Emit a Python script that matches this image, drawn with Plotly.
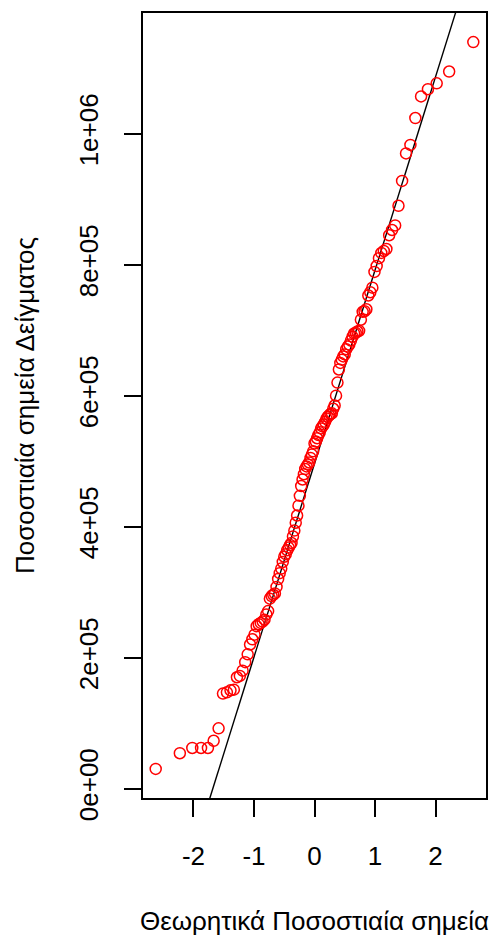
import numpy as np
import plotly.graph_objects as go
from statistics import NormalDist

# Sorted sample values (Normal Q-Q plot)
sample_values = [
    30000, 54000, 62000, 62000, 62000, 73000, 92000, 145000, 147000, 150000,
    151000, 170000, 172000, 180000, 193000, 205000, 220000, 228000, 235000, 248000,
    251000, 253000, 255000, 258000, 266000, 271000, 290000, 294000, 296000, 298000,
    308000, 320000, 329000, 336000, 346000, 354000, 358000, 364000, 368000, 372000,
    375000, 385000, 394000, 406000, 417000, 432000, 447000, 462000, 472000, 480000,
    488000, 492000, 495000, 498000, 505000, 510000, 515000, 527000, 530000, 535000,
    540000, 544000, 550000, 553000, 556000, 560000, 565000, 568000, 570000, 572000,
    573000, 580000, 585000, 600000, 620000, 640000, 650000, 655000, 660000, 663000,
    671000, 675000, 678000, 684000, 690000, 695000, 696000, 698000, 699000, 716000,
    728000, 729000, 732000, 753000, 758000, 765000, 789000, 798000, 810000, 818000,
    821000, 824000, 845000, 853000, 860000, 890000, 928000, 970000, 983000, 1024000,
    1057000, 1068000, 1077000, 1095000, 1140000,
]

x_tick_values = [-2, -1, 0, 1, 2]
x_tick_labels = ["-2", "-1", "0", "1", "2"]
y_tick_values = [0, 200000, 400000, 600000, 800000, 1000000]
y_tick_labels = ["0e+00", "2e+05", "4e+05", "6e+05", "8e+05", "1e+06"]

x_title = "Θεωρητικά Ποσοστιαία σημεία"
y_title = "Ποσοστιαία σημεία Δείγματος"

# Theoretical normal quantiles at plotting positions (i - 0.5) / n
norm = NormalDist()
sample = np.array(sorted(sample_values), dtype=float)
n = len(sample)
theoretical = np.array([norm.inv_cdf((i - 0.5) / n) for i in range(1, n + 1)])

# Reference line through the first and third quartiles
q1, q3 = np.quantile(sample, [0.25, 0.75])
z1, z3 = norm.inv_cdf(0.25), norm.inv_cdf(0.75)
slope = (q3 - q1) / (z3 - z1)
intercept = q1 - slope * z1


def padded(lo, hi, frac=0.04):
    span = hi - lo
    return [lo - frac * span, hi + frac * span]


x_range = padded(theoretical.min(), theoretical.max())
y_range = padded(sample.min(), sample.max())

line_x = np.array(x_range)
line_y = intercept + slope * line_x

font_family = "Liberation Sans, Arial, sans-serif"

fig = go.Figure()
fig.add_trace(go.Scatter(
    x=line_x, y=line_y, mode="lines",
    line=dict(color="black", width=1.4),
    hoverinfo="skip", showlegend=False,
))
fig.add_trace(go.Scatter(
    x=theoretical, y=sample, mode="markers",
    marker=dict(symbol="circle-open", size=11, color="#ff0000",
                line=dict(color="#ff0000", width=1.5)),
    showlegend=False,
))

axis_common = dict(
    showgrid=False, zeroline=False,
    showline=True, mirror=True, linecolor="black", linewidth=1.5,
    ticks="outside", ticklen=17, tickwidth=1.5, tickcolor="black",
    tickfont=dict(family=font_family, size=26, color="black"),
)

fig.update_layout(
    width=499, height=942, autosize=False,
    margin=dict(l=143, r=12, t=11, b=136, pad=0),
    paper_bgcolor="white", plot_bgcolor="white",
    font=dict(family=font_family, size=26, color="black"),
    xaxis=dict(
        range=x_range, tickmode="array",
        tickvals=x_tick_values, ticktext=x_tick_labels,
        ticklabelstandoff=17,
        title=dict(text=x_title, standoff=42,
                   font=dict(family=font_family, size=26, color="black")),
        **axis_common,
    ),
    yaxis=dict(
        range=y_range, tickmode="array",
        tickvals=y_tick_values, ticktext=y_tick_labels,
        tickangle=-90, ticklabelstandoff=16,
        title=dict(text=y_title, standoff=32,
                   font=dict(family=font_family, size=26, color="black")),
        **axis_common,
    ),
)

fig.write_html("out.html")
